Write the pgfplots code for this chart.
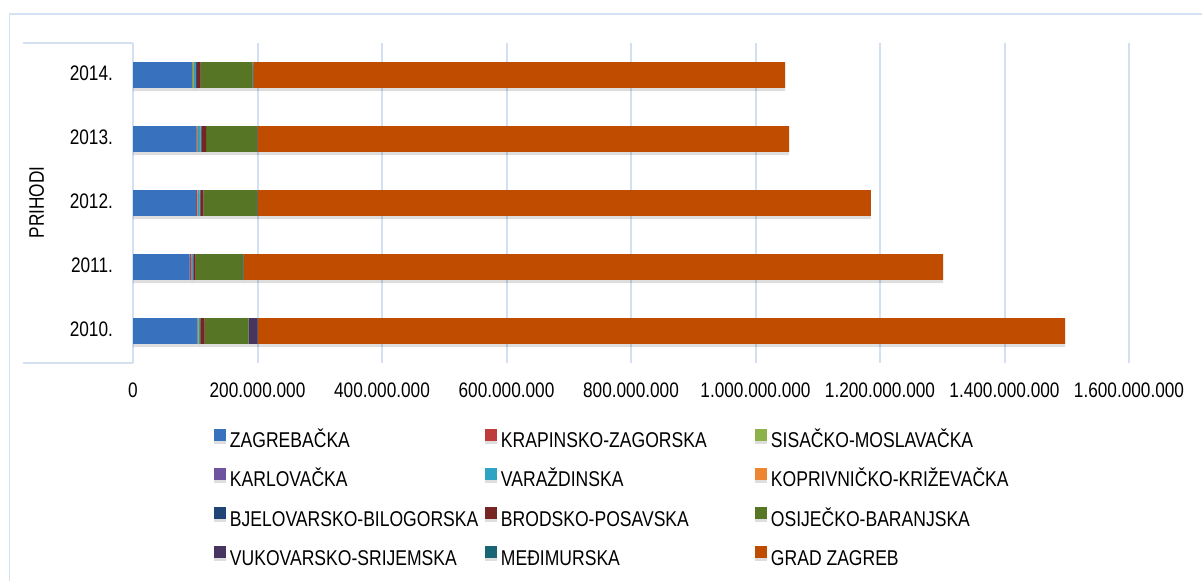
\documentclass[border=0pt]{standalone}
\usepackage{fontspec}
\setmainfont{Liberation Sans}[FakeStretch=0.82]
\usepackage{pgfplots}
\pgfplotsset{compat=1.18}
\definecolor{gridc}{HTML}{D3E0F1}
\definecolor{bordc}{HTML}{D6E2F3}
\definecolor{c1}{HTML}{3872BE}
\definecolor{c2}{HTML}{BE3C3A}
\definecolor{c3}{HTML}{8CB24A}
\definecolor{c4}{HTML}{7053A0}
\definecolor{c5}{HTML}{2FA3C4}
\definecolor{c6}{HTML}{EE8530}
\definecolor{c7}{HTML}{1F4577}
\definecolor{c8}{HTML}{772524}
\definecolor{c9}{HTML}{567626}
\definecolor{c10}{HTML}{48355F}
\definecolor{c11}{HTML}{1A6575}
\definecolor{c12}{HTML}{C04C00}
\begin{document}
\begin{tikzpicture}
\useasboundingbox (0,0) rectangle (601pt,290.5pt);
\draw[bordc, line width=0.75pt] (4.75pt,0pt) -- (4.75pt,283.5pt) -- (601pt,283.5pt);
\draw[gridc, line width=1pt] (11.5pt,269pt) -- (66.5pt,269pt);
\draw[gridc, line width=1pt] (11.5pt,109pt) -- (66.5pt,109pt);
\begin{axis}[
  at={(66.5pt,109pt)}, anchor=south west,
  scale only axis, width=498pt, height=160pt,
  xbar stacked, bar width=0.406,
  xmin=0, xmax=1600000000, ymin=-0.5, ymax=4.5,
  ytick={0,1,2,3,4}, yticklabels={2010.,2011.,2012.,2013.,2014.},
  xtick={0,200000000,400000000,600000000,800000000,1000000000,1200000000,1400000000,1600000000},
  xticklabels={0,200.000.000,400.000.000,600.000.000,800.000.000,1.000.000.000,1.200.000.000,1.400.000.000,1.600.000.000},
  scaled x ticks=false,
  xmajorgrids, grid style={gridc, line width=1pt},
  axis line style={draw=none}, major tick length=0pt,
  tick label style={font=\fontsize{10.5}{12.6}\selectfont},
  xticklabel style={anchor=base, yshift=-17.2pt, inner sep=0pt},
  yticklabel style={anchor=east, inner sep=0pt, xshift=-9.85pt, yshift=1pt},
  ylabel={PRIHODI},
  ylabel style={at={(axis description cs:-0.0967,0.5016)}, anchor=center, font=\fontsize{10.5}{12.6}\selectfont, inner sep=0pt},
  every axis plot/.append style={draw=none, preaction={draw=none, fill=black, fill opacity=0.13, transform canvas={yshift=-1.6pt}}},
  legend columns=3,
  legend cell align=left,
  legend image code/.code={\fill[#1] (0pt,0.6pt) rectangle (6pt,6.6pt);},
  legend style={at={(0.0813,-0.205)}, anchor=north west, draw=none, fill=none,
    inner sep=0pt, outer sep=0pt, font=\fontsize{10.7}{12.8}\selectfont,
    /tikz/column sep=2pt, /tikz/row sep=8pt,
    nodes={inner sep=0pt, text height=8pt, text depth=2pt}},
]
\addplot[fill=c1] coordinates {(103300000,0) (91100000,1) (101200000,2) (101700000,3) (94800000,4)};
\addlegendentry{\makebox[125.5pt][l]{ZAGREBAČKA}}
\addplot[fill=c2] coordinates {(500000,0) (1800000,1) (1600000,2) (1600000,3) (600000,4)};
\addlegendentry{\makebox[125pt][l]{KRAPINSKO-ZAGORSKA}}
\addplot[fill=c3] coordinates {(2000000,0) (500000,1) (600000,2) (800000,3) (2400000,4)};
\addlegendentry{SISAČKO-MOSLAVAČKA}
\addplot[fill=c4] coordinates {(300000,0) (300000,1) (400000,2) (400000,3) (400000,4)};
\addlegendentry{\makebox[125.5pt][l]{KARLOVAČKA}}
\addplot[fill=c5] coordinates {(1500000,0) (2400000,1) (3200000,2) (4000000,3) (2600000,4)};
\addlegendentry{\makebox[125pt][l]{VARAŽDINSKA}}
\addplot[fill=c6] coordinates {(300000,0) (400000,1) (500000,2) (500000,3) (600000,4)};
\addlegendentry{KOPRIVNIČKO-KRIŽEVAČKA}
\addplot[fill=c7] coordinates {(300000,0) (600000,1) (800000,2) (800000,3) (1400000,4)};
\addlegendentry{\makebox[125.5pt][l]{BJELOVARSKO-BILOGORSKA}}
\addplot[fill=c8] coordinates {(6900000,0) (3500000,1) (4800000,2) (7500000,3) (5900000,4)};
\addlegendentry{\makebox[125pt][l]{BRODSKO-POSAVSKA}}
\addplot[fill=c9] coordinates {(70700000,0) (76400000,1) (86300000,2) (81500000,3) (83600000,4)};
\addlegendentry{OSIJEČKO-BARANJSKA}
\addplot[fill=c10] coordinates {(14500000,0) (500000,1) (500000,2) (500000,3) (600000,4)};
\addlegendentry{\makebox[125.5pt][l]{VUKOVARSKO-SRIJEMSKA}}
\addplot[fill=c11] coordinates {(300000,0) (300000,1) (400000,2) (400000,3) (400000,4)};
\addlegendentry{\makebox[125pt][l]{MEĐIMURSKA}}
\addplot[fill=c12] coordinates {(1296600000,0) (1123400000,1) (985200000,2) (854100000,3) (854100000,4)};
\addlegendentry{GRAD ZAGREB}
\end{axis}
\end{tikzpicture}
\end{document}
